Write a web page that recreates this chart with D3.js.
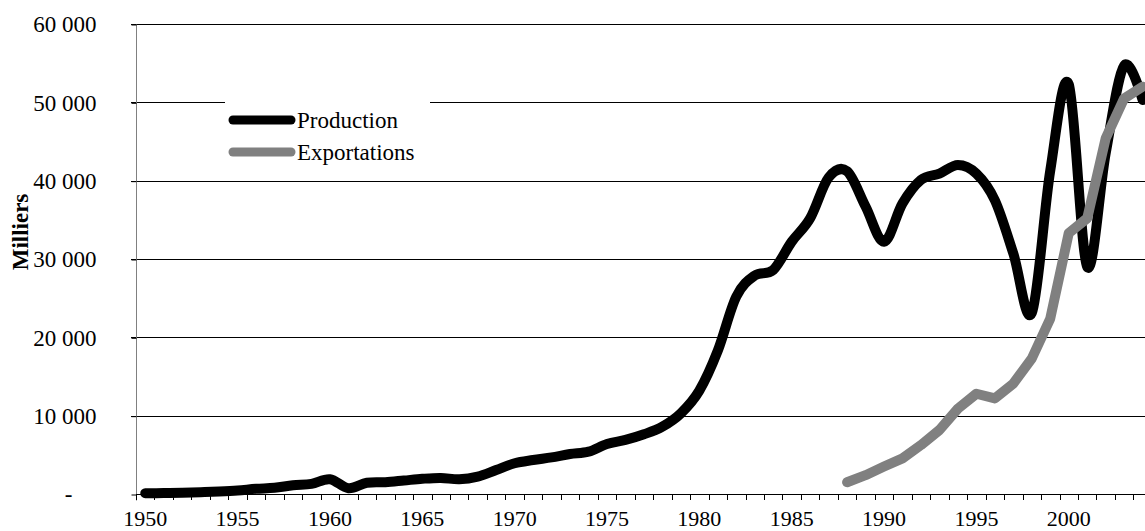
<!DOCTYPE html>
<html>
<head>
<meta charset="utf-8">
<script src="https://cdn.jsdelivr.net/npm/d3@7"></script>
<style>
  html, body { margin: 0; padding: 0; background: #fff; }
  svg { display: block; font-family: "Liberation Serif", "Times New Roman", serif; }
</style>
</head>
<body>
<div id="chart"></div>
<script>
// years on the category axis
const years = d3.range(1950, 2005);

// production, 1950 -> 2004 (milliers)
const production = [
  100, 120, 160, 230, 320, 450, 660, 790, 1120, 1300,
  1890, 740, 1430, 1510, 1720, 1940, 2050, 1870, 2210, 3060,
  3920, 4340, 4680, 5100, 5400, 6380, 6900, 7620, 8600, 10300,
  13200, 18300, 25200, 27900, 28600, 32200, 35200, 40400, 41200, 36700,
  32200, 37100, 40100, 40900, 42000, 40900, 37500, 30700, 23100, 41300,
  52300, 29000, 43500, 54700, 50300
];

// exportations start in 1988
const exportYears = d3.range(1988, 2005);
const exportations = [
  1500, 2400, 3500, 4550, 6250, 8170, 10900, 12800, 12200, 14100,
  17300, 22400, 33300, 35200, 45400, 50500, 52000
];

const yTicks = [0, 10000, 20000, 30000, 40000, 50000, 60000];
const xLabelYears = [1950, 1955, 1960, 1965, 1970, 1975, 1980, 1985, 1990, 1995, 2000];

const seriesNames = ['Production', 'Exportations'];
const seriesColors = ['#000000', '#808080'];

const width = 1145;
const height = 531;
const plotLeft = 136, plotTop = 24, plotBottom = 494;
const bandW = 18.47;

const svg = d3.select('#chart')
  .append('svg')
  .attr('width', width)
  .attr('height', height);

const x = d3.scaleBand()
  .domain(years)
  .range([plotLeft, plotLeft + bandW * years.length])
  .padding(0);

const y = d3.scaleLinear()
  .domain([0, 60000])
  .range([plotBottom, plotTop]);

const fr = d3.formatLocale({ decimal: ',', thousands: '\u00a0', grouping: [3] });
const fmt = fr.format(',d');

// grid lines
svg.append('g')
  .selectAll('line')
  .data(yTicks.filter(d => d > 0))
  .join('line')
  .attr('x1', plotLeft - 5)
  .attr('x2', width)
  .attr('y1', d => Math.round(y(d)) + 0.5)
  .attr('y2', d => Math.round(y(d)) + 0.5)
  .attr('stroke', '#000')
  .attr('stroke-width', 1);

// y axis
const yAxis = svg.append('g')
  .attr('transform', `translate(${plotLeft + 0.5},0.5)`)
  .call(d3.axisLeft(y)
    .tickValues(yTicks)
    .tickSize(5)
    .tickPadding(35)
    .tickFormat(d => d === 0 ? '-' : fmt(d)));

yAxis.select('.domain')
  .attr('d', `M0,${plotTop}V${plotBottom + 6}`)
  .attr('stroke', '#808080');
yAxis.selectAll('.tick line').attr('stroke', '#000');
yAxis.selectAll('.tick text')
  .style('font-size', '23px')
  .style('fill', '#000')
  .style('font-family', '"Liberation Serif", serif')
  .attr('dx', d => d === 0 ? -24 : 0);

// x axis line + year ticks
svg.append('line')
  .attr('x1', plotLeft)
  .attr('x2', width)
  .attr('y1', plotBottom + 0.5)
  .attr('y2', plotBottom + 0.5)
  .attr('stroke', '#000');

svg.append('g')
  .selectAll('line')
  .data(years)
  .join('line')
  .attr('x1', d => Math.round(x(d)) + 0.5)
  .attr('x2', d => Math.round(x(d)) + 0.5)
  .attr('y1', plotBottom)
  .attr('y2', plotBottom + 6)
  .attr('stroke', '#000');

svg.append('g')
  .selectAll('text')
  .data(xLabelYears)
  .join('text')
  .attr('x', d => x(d) + x.bandwidth() / 2)
  .attr('y', 526)
  .attr('text-anchor', 'middle')
  .style('font-size', '22px')
  .text(d => d);

// y title
svg.append('text')
  .attr('transform', 'translate(28,232) rotate(-90)')
  .attr('text-anchor', 'middle')
  .style('font-size', '23px')
  .style('font-weight', 'bold')
  .text('Milliers');

const cx = d => x(d) + x.bandwidth() / 2;

// production (smoothed)
svg.append('path')
  .datum(years.map((yr, i) => [yr, production[i]]))
  .attr('fill', 'none')
  .attr('stroke', seriesColors[0])
  .attr('stroke-width', 10)
  .attr('stroke-linejoin', 'round')
  .attr('stroke-linecap', 'round')
  .attr('d', d3.line()
    .x(d => cx(d[0]))
    .y(d => y(d[1]))
    .curve(d3.curveCardinal.tension(0)));

// exportations
svg.append('path')
  .datum(exportYears.map((yr, i) => [yr, exportations[i]]))
  .attr('fill', 'none')
  .attr('stroke', seriesColors[1])
  .attr('stroke-width', 10)
  .attr('stroke-linejoin', 'round')
  .attr('stroke-linecap', 'round')
  .attr('d', d3.line()
    .x(d => cx(d[0]))
    .y(d => y(d[1])));

// legend
const legend = svg.append('g');
legend.append('rect')
  .attr('x', 225).attr('y', 98)
  .attr('width', 205).attr('height', 72)
  .attr('fill', '#fff');

const item = legend.selectAll('g')
  .data(seriesNames)
  .join('g')
  .attr('transform', (d, i) => `translate(0,${120 + i * 32})`);

item.append('line')
  .attr('x1', 233).attr('x2', 291)
  .attr('stroke', (d, i) => seriesColors[i])
  .attr('stroke-width', 9)
  .attr('stroke-linecap', 'round');

item.append('text')
  .attr('x', 297)
  .attr('dy', '0.35em')
  .style('font-size', '23px')
  .text(d => d);
</script>
</body>
</html>
